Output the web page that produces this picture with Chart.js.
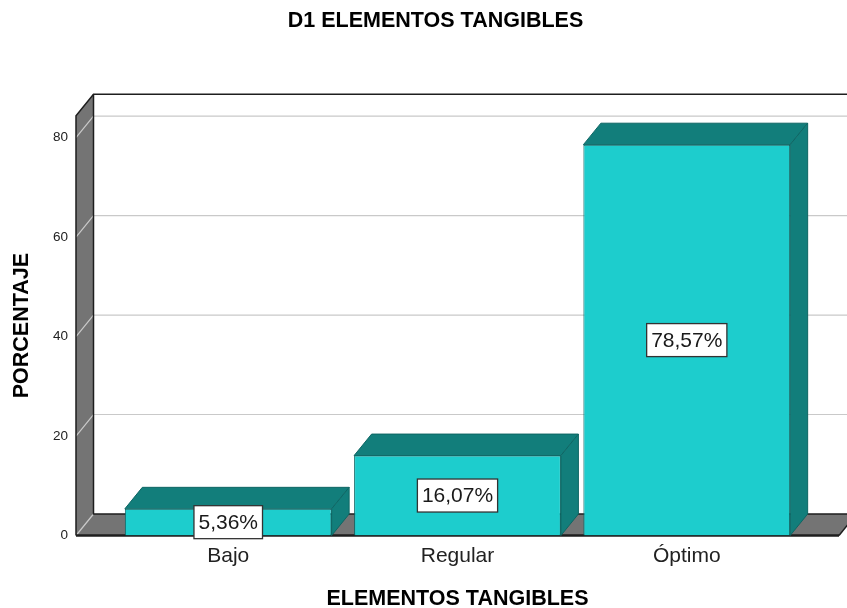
<!DOCTYPE html>
<html>
<head>
<meta charset="utf-8">
<title>D1 ELEMENTOS TANGIBLES</title>
<script src="https://cdn.jsdelivr.net/npm/chart.js@4.4.1/dist/chart.umd.min.js"></script>
<style>
  html, body { margin: 0; padding: 0; background: #fff; }
  canvas { display: block; }
</style>
</head>
<body>
<canvas id="grafico" width="847" height="608"></canvas>
<script>
// datos del grafico
var categorias = ['Bajo', 'Regular', 'Óptimo'];
var porcentajes = [5.36, 16.07, 78.57];
var ticksY = [0, 20, 40, 60, 80];
var maxY = 84.4;

var fuente = "'Liberation Sans', Arial, sans-serif";
// profundidad del efecto 3D en px
var prof = { dx: 17.5, dy: 21.5 };

var colorFrente = '#1dcdcd';
var colorLado = '#127e7b';
var colorBorde = '#0e6664';
var colorPared = '#747474';

function etiqueta(v) {
  return v.toFixed(2).replace('.', ',') + '%';
}

// pared izquierda, piso, pared del fondo y grilla
var fondo3d = {
  id: 'fondo3d',
  beforeDatasetsDraw: function(chart) {
    var ctx = chart.ctx;
    var a = chart.chartArea;
    var y = chart.scales.y;
    var dx = prof.dx, dy = prof.dy;
    var top = y.getPixelForValue(maxY);
    var bottom = y.getPixelForValue(0);
    ctx.save();

    // pared izquierda
    ctx.fillStyle = colorPared;
    ctx.beginPath();
    ctx.moveTo(a.left, bottom);
    ctx.lineTo(a.left + dx, bottom - dy);
    ctx.lineTo(a.left + dx, top - dy);
    ctx.lineTo(a.left, top);
    ctx.closePath();
    ctx.fill();

    // piso
    ctx.beginPath();
    ctx.moveTo(a.left, bottom);
    ctx.lineTo(a.right, bottom);
    ctx.lineTo(a.right + dx, bottom - dy);
    ctx.lineTo(a.left + dx, bottom - dy);
    ctx.closePath();
    ctx.fill();

    // lineas de grilla (pared del fondo + diagonal en la pared izquierda)
    ctx.strokeStyle = '#c9c9c9';
    ctx.lineWidth = 1.2;
    ticksY.forEach(function(t) {
      if (t === 0) return;
      var py = y.getPixelForValue(t);
      ctx.beginPath();
      ctx.moveTo(a.left, py);
      ctx.lineTo(a.left + dx, py - dy);
      ctx.lineTo(a.right + dx, py - dy);
      ctx.stroke();
    });
    ctx.beginPath();
    ctx.moveTo(a.left, bottom);
    ctx.lineTo(a.left + dx, bottom - dy);
    ctx.stroke();

    // bordes
    ctx.strokeStyle = '#1e1e1e';
    ctx.lineWidth = 1.5;
    ctx.beginPath();
    ctx.moveTo(a.left, bottom);
    ctx.lineTo(a.left, top);
    ctx.lineTo(a.left + dx, top - dy);
    ctx.lineTo(a.right + dx, top - dy);
    ctx.stroke();
    ctx.beginPath();
    ctx.moveTo(a.left + dx, top - dy);
    ctx.lineTo(a.left + dx, bottom - dy);
    ctx.lineTo(a.right + dx, bottom - dy);
    ctx.stroke();
    ctx.beginPath();
    ctx.moveTo(a.right, bottom);
    ctx.lineTo(a.right + dx, bottom - dy);
    ctx.stroke();
    ctx.lineWidth = 2.5;
    ctx.beginPath();
    ctx.moveTo(a.left, bottom);
    ctx.lineTo(a.right, bottom);
    ctx.stroke();

    ctx.restore();
  }
};

// caras superior y lateral de cada barra, y etiquetas de valor
var caras3d = {
  id: 'caras3d',
  afterDatasetsDraw: function(chart) {
    var ctx = chart.ctx;
    var meta = chart.getDatasetMeta(0);
    var dx = prof.dx, dy = prof.dy;
    ctx.save();
    ctx.lineWidth = 1;
    ctx.strokeStyle = colorBorde;
    ctx.fillStyle = colorLado;
    meta.data.forEach(function(bar) {
      var p = bar.getProps(['x', 'y', 'base', 'width'], true);
      var x0 = p.x - p.width / 2, x1 = p.x + p.width / 2;
      ctx.beginPath();
      ctx.moveTo(x0, p.y);
      ctx.lineTo(x0 + dx, p.y - dy);
      ctx.lineTo(x1 + dx, p.y - dy);
      ctx.lineTo(x1, p.y);
      ctx.closePath();
      ctx.fill();
      ctx.stroke();
      ctx.beginPath();
      ctx.moveTo(x1, p.y);
      ctx.lineTo(x1 + dx, p.y - dy);
      ctx.lineTo(x1 + dx, p.base - dy);
      ctx.lineTo(x1, p.base);
      ctx.closePath();
      ctx.fill();
      ctx.stroke();
    });

    ctx.font = '21px ' + fuente;
    ctx.textAlign = 'center';
    ctx.textBaseline = 'middle';
    meta.data.forEach(function(bar, i) {
      var p = bar.getProps(['x', 'y', 'base'], true);
      var txt = etiqueta(porcentajes[i]);
      var w = ctx.measureText(txt).width + 9;
      var h = 33;
      var cy = (p.y + p.base) / 2;
      ctx.fillStyle = '#fff';
      ctx.fillRect(p.x - w / 2, cy - h / 2, w, h);
      ctx.strokeStyle = '#333';
      ctx.lineWidth = 1.3;
      ctx.strokeRect(p.x - w / 2, cy - h / 2, w, h);
      ctx.fillStyle = '#1a1a1a';
      ctx.fillText(txt, p.x, cy + 1);
    });
    ctx.restore();
  }
};

var ctx = document.getElementById('grafico').getContext('2d');
var grafico = new Chart(ctx, {
  type: 'bar',
  data: {
    datasets: [{
      data: porcentajes.map(function(v, i) { return { x: i, y: v }; }),
      backgroundColor: colorFrente,
      borderColor: colorBorde,
      borderWidth: 1,
      categoryPercentage: 1,
      barPercentage: 0.902
    }]
  },
  options: {
    responsive: false,
    animation: false,
    layout: { padding: { left: 32, right: 8, top: 0, bottom: 0 } },
    plugins: {
      legend: { display: false },
      tooltip: { enabled: false },
      title: {
        display: true,
        text: 'D1 ELEMENTOS TANGIBLES',
        color: '#000',
        font: { family: fuente, size: 21.5, weight: 'bold', lineHeight: 1.2 },
        padding: { top: 8, bottom: 81.9 }
      }
    },
    scales: {
      x: {
        type: 'linear',
        offset: false,
        min: -0.664,
        max: 2.664,
        grid: { display: false, drawTicks: false },
        border: { display: false },
        ticks: {
          stepSize: 1,
          includeBounds: false,
          autoSkip: false,
          maxRotation: 0,
          padding: 8,
          color: '#222',
          font: { family: fuente, size: 21, lineHeight: 1.2 },
          callback: function(v) {
            return Number.isInteger(v) && categorias[v] !== undefined ? categorias[v] : '';
          }
        },
        title: {
          display: true,
          text: 'ELEMENTOS TANGIBLES',
          color: '#000',
          font: { family: fuente, size: 21.5, weight: 'bold', lineHeight: 1 },
          padding: { top: 0, bottom: -2 }
        },
        afterFit: function(s) { s.height = 72.5; }
      },
      y: {
        min: 0,
        max: maxY,
        grid: { display: false, drawTicks: false },
        border: { display: false },
        ticks: {
          stepSize: 20,
          includeBounds: false,
          padding: 8,
          color: '#222',
          font: { family: fuente, size: 13.5 }
        },
        title: {
          display: true,
          text: 'PORCENTAJE',
          color: '#000',
          font: { family: fuente, size: 21.5, weight: 'bold', lineHeight: 1 },
          padding: { top: -21, bottom: 0 }
        },
        afterFit: function(s) { s.width = 44; }
      }
    }
  },
  plugins: [fondo3d, caras3d]
});
</script>
</body>
</html>
